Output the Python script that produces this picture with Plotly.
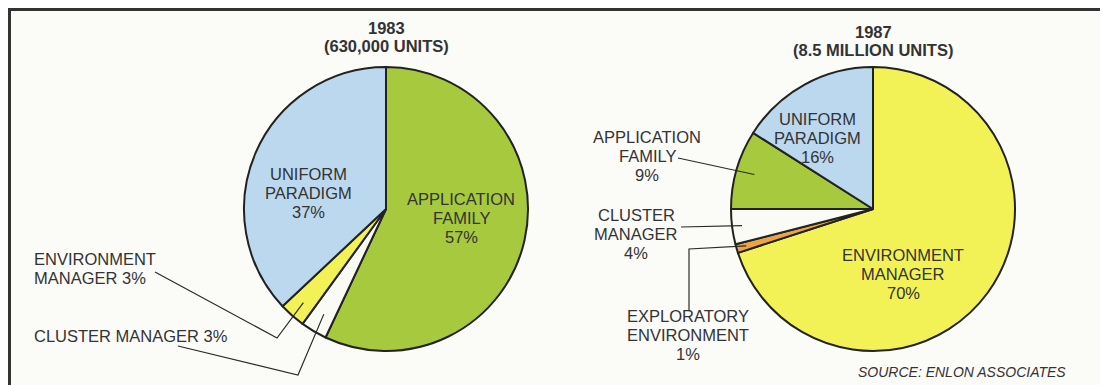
import math
import plotly.graph_objects as go

W, H = 1108, 385
OFF = 8  # the page body adds an 8px margin round the figure

labels_1983 = ['APPLICATION FAMILY', 'CLUSTER MANAGER', 'ENVIRONMENT MANAGER', 'UNIFORM PARADIGM']
values_1983 = [57, 3, 3, 37]

labels_1987 = ['ENVIRONMENT MANAGER', 'EXPLORATORY ENVIRONMENT', 'CLUSTER MANAGER',
               'APPLICATION FAMILY', 'UNIFORM PARADIGM']
values_1987 = [70, 1, 4, 9, 16]

titles = [['1983', '(630,000 UNITS)'], ['1987', '(8.5 MILLION UNITS)']]

palette = {
    'APPLICATION FAMILY': '#a6c93e',
    'CLUSTER MANAGER': '#fbfbf5',
    'ENVIRONMENT MANAGER': '#f2f257',
    'UNIFORM PARADIGM': '#bcd8ef',
    'EXPLORATORY ENVIRONMENT': '#e8a446',
}

FONT = 'Liberation Sans, Arial, sans-serif'
INK = '#333333'
R = 142
CY = 209
CX1, CX2 = 386, 873
LH = 19


def px(x):
    return (x - OFF) / W


def py(y):
    return 1 - (y - OFF) / H


def domain(cx):
    return dict(x=[px(cx - R), px(cx + R)], y=[py(CY + R), py(CY - R)])


def slice_point(values, idx, cx, frac):
    start = sum(values[:idx])
    mid = (start + values[idx] / 2) / sum(values) * 2 * math.pi
    return cx + frac * R * math.sin(mid), CY - frac * R * math.cos(mid)


fig = go.Figure()
for labels, values, cx in [(labels_1983, values_1983, CX1), (labels_1987, values_1987, CX2)]:
    fig.add_trace(go.Pie(
        labels=labels, values=values, sort=False, direction='clockwise', rotation=0,
        marker=dict(colors=[palette[l] for l in labels], line=dict(color='#222222', width=2)),
        textinfo='none', hoverinfo='label+percent', showlegend=False,
        domain=domain(cx),
    ))

ann = []


def text(x, y, lines, size=16.5, xanchor='center', bold=False, italic=False, lh=LH):
    n = len(lines)
    for i, s in enumerate(lines):
        if bold:
            s = '<b>' + s + '</b>'
        if italic:
            s = '<i>' + s + '</i>'
        ann.append(dict(x=px(x), y=py(y + (i - (n - 1) / 2) * lh), xref='paper', yref='paper',
                        text=s, showarrow=False, xanchor=xanchor, yanchor='middle',
                        font=dict(family=FONT, size=size, color=INK)))


def pct(labels, values, name):
    return f'{values[labels.index(name)]}%'


# titles
text(CX1, 37, titles[0], size=16.5, bold=True, lh=18)
text(CX2, 41, titles[1], size=16.5, bold=True, lh=18)

# 1983 labels
text(308, 193, ['UNIFORM', 'PARADIGM', pct(labels_1983, values_1983, 'UNIFORM PARADIGM')])
text(461, 218, ['APPLICATION', 'FAMILY', pct(labels_1983, values_1983, 'APPLICATION FAMILY')])
text(32, 268, ['ENVIRONMENT', 'MANAGER ' + pct(labels_1983, values_1983, 'ENVIRONMENT MANAGER')],
     xanchor='left')
text(32, 336, ['CLUSTER MANAGER ' + pct(labels_1983, values_1983, 'CLUSTER MANAGER')], xanchor='left')

# 1987 labels
text(817, 138, ['UNIFORM', 'PARADIGM', pct(labels_1987, values_1987, 'UNIFORM PARADIGM')])
text(903, 274, ['ENVIRONMENT', 'MANAGER', pct(labels_1987, values_1987, 'ENVIRONMENT MANAGER')])
text(647, 156, ['APPLICATION', 'FAMILY', pct(labels_1987, values_1987, 'APPLICATION FAMILY')])
text(636, 234, ['CLUSTER', 'MANAGER', pct(labels_1987, values_1987, 'CLUSTER MANAGER')])
text(688, 335, ['EXPLORATORY', 'ENVIRONMENT', pct(labels_1987, values_1987, 'EXPLORATORY ENVIRONMENT')])
text(962, 372, ['SOURCE: ENLON ASSOCIATES'], size=14, italic=True)

# leader lines: label end -> elbow -> point inside the slice
leaders = [
    ([(155, 272), (277, 338)], slice_point(values_1983, 2, CX1, 0.88)),
    ([(178, 346), (298, 375)], slice_point(values_1983, 1, CX1, 0.86)),
    ([(678, 158)], slice_point(values_1987, 3, CX2, 0.87)),
    ([(681, 227)], slice_point(values_1987, 2, CX2, 0.93)),
    ([(689, 310), (689, 249)], slice_point(values_1987, 1, CX2, 0.93)),
]
shapes = []
for pts, end in leaders:
    pts = pts + [end]
    path = 'M ' + ' L '.join(f'{px(x):.5f},{py(y):.5f}' for x, y in pts)
    shapes.append(dict(type='path', xref='paper', yref='paper', path=path,
                       line=dict(color='#2a2a2a', width=1.2)))

# frame lines (top and left)
shapes.append(dict(type='line', xref='paper', yref='paper', x0=px(8), x1=1, y0=py(9.5), y1=py(9.5),
                   line=dict(color='#333333', width=3)))
shapes.append(dict(type='line', xref='paper', yref='paper', x0=px(9.5), x1=px(9.5), y0=py(8), y1=0,
                   line=dict(color='#333333', width=3)))

fig.update_layout(
    width=W, height=H, autosize=False,
    margin=dict(l=0, r=0, t=0, b=0),
    paper_bgcolor='#fbfbf8', plot_bgcolor='#fbfbf8',
    annotations=ann, shapes=shapes,
    font=dict(family=FONT, color=INK),
)

fig.write_html('out.html')
